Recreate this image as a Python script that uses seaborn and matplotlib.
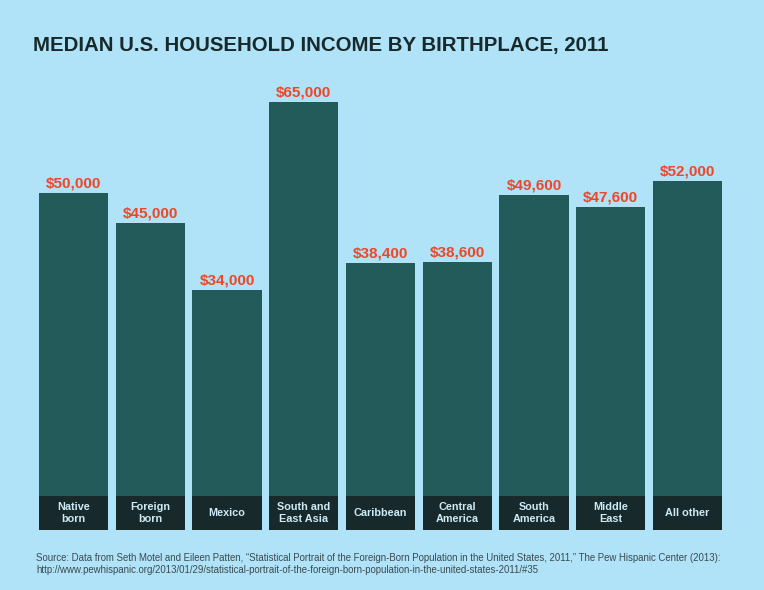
import matplotlib
matplotlib.use("Agg")
import matplotlib.pyplot as plt
import seaborn as sns
import pandas as pd

categories = ["Native\nborn", "Foreign\nborn", "Mexico", "South and\nEast Asia", "Caribbean",
              "Central\nAmerica", "South\nAmerica", "Middle\nEast", "All other"]
incomes = [50000, 45000, 34000, 65000, 38400, 38600, 49600, 47600, 52000]
value_labels = ["$50,000", "$45,000", "$34,000", "$65,000", "$38,400", "$38,600", "$49,600", "$47,600", "$52,000"]

title = "MEDIAN U.S. HOUSEHOLD INCOME BY BIRTHPLACE, 2011"
source = ("Source: Data from Seth Motel and Eileen Patten, \u201cStatistical Portrait of the Foreign-Born Population in the United States, 2011,\u201d The Pew Hispanic Center (2013):\n"
          "http://www.pewhispanic.org/2013/01/29/statistical-portrait-of-the-foreign-born-population-in-the-united-states-2011/#35")

BG = "#B0E2F8"
BAR = "#235B5A"
BOX = "#17292A"
RED = "#EE4727"
DARK = "#17292A"

sns.set_style("white")
plt.rcParams["font.family"] = ["Liberation Sans", "DejaVu Sans"]

df = pd.DataFrame({"category": categories, "income": incomes})

fig = plt.figure(figsize=(7.64, 5.90), dpi=100)
fig.patch.set_facecolor(BG)
ax = fig.add_axes([39 / 764, 60 / 590, 683 / 764, 450 / 590])
ax.set_facecolor(BG)

sns.barplot(data=df, x="category", y="income", color=BAR, saturation=1, width=0.9,
            linewidth=0, edgecolor=BAR, ax=ax)

box_h = 5609
xs = list(range(len(categories)))
ax.bar(xs, [box_h] * len(xs), bottom=-box_h, width=0.9, color=BOX, linewidth=0)

for x, v, lab, cat in zip(xs, incomes, value_labels, categories):
    ax.text(x, v + 450, lab, ha="center", va="bottom", color=RED, fontsize=11, fontweight="bold")
    ax.text(x, -box_h / 2, cat, ha="center", va="center", color="#CDEAF6", fontsize=7.8,
            fontweight="bold", linespacing=1.3)

ax.set_xlim(-0.45, len(categories) - 0.55)
ax.set_ylim(-box_h, 68625)
ax.set_xlabel("")
ax.set_ylabel("")
ax.set_xticks([])
ax.set_yticks([])
for s in ax.spines.values():
    s.set_visible(False)

fig.text(33 / 764, 1 - 45 / 590, title, ha="left", va="center", fontsize=14.65, fontweight="bold", color=DARK)
fig.text(36 / 764, 1 - 564 / 590, source, ha="left", va="center", fontsize=6.9, color="#3A4A50",
         family=["Liberation Sans Narrow", "Liberation Sans"], linespacing=1.3)

fig.savefig("out.png", dpi=100, facecolor=BG)
